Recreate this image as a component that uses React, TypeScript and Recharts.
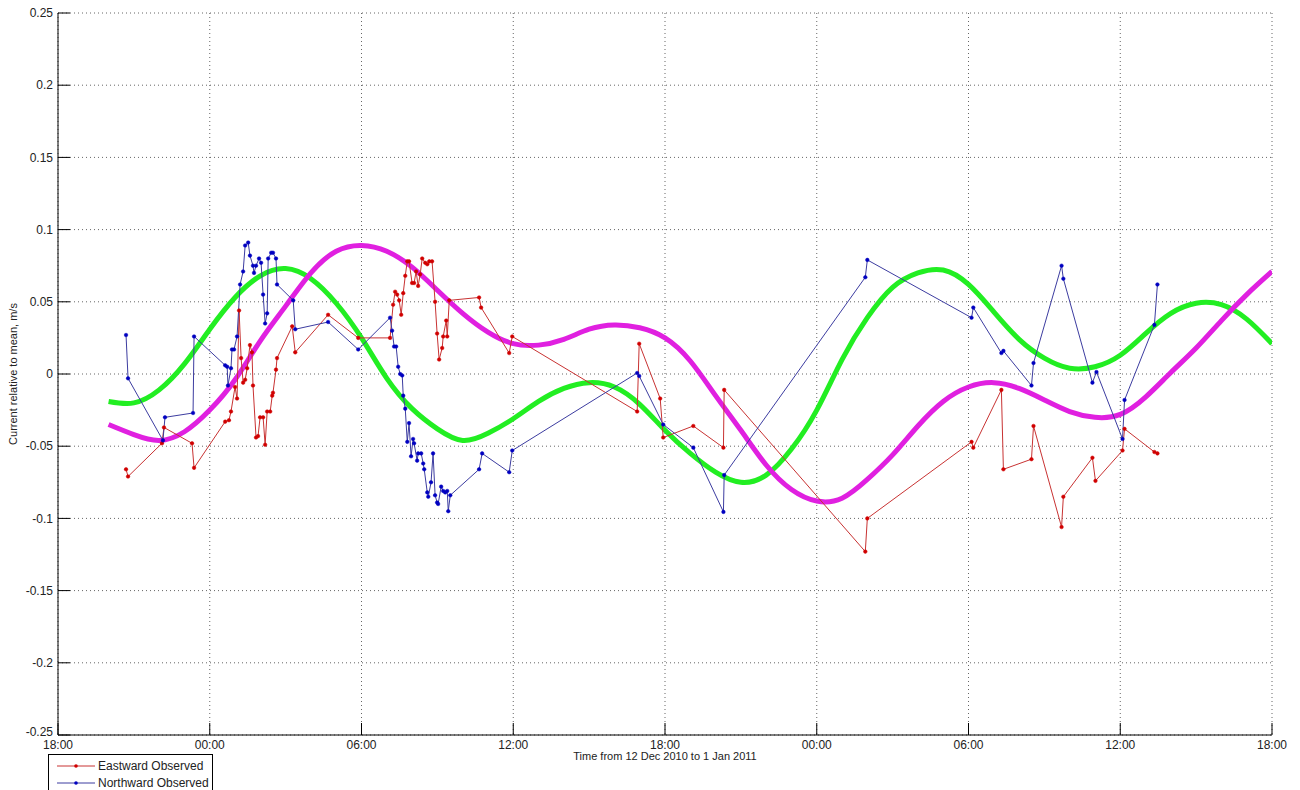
import { LineChart, Line, XAxis, YAxis, CartesianGrid } from 'recharts'

// hours counted from 18:00 on the first day
const timeTicks = [0, 6, 12, 18, 24, 30, 36, 42, 48]
const timeLabels = ['18:00', '00:00', '06:00', '12:00', '18:00', '00:00', '06:00', '12:00', '18:00']
const valueTicks = [-0.25, -0.2, -0.15, -0.1, -0.05, 0, 0.05, 0.1, 0.15, 0.2, 0.25]

// predicted tidal curves, hourly
const predHours = [
  2, 3, 4, 5, 6, 7, 8, 9, 10, 11, 12, 13, 14, 15, 16, 17, 18, 19, 20, 21, 22, 23, 24, 25,
  26, 27, 28, 29, 30, 31, 32, 33, 34, 35, 36, 37, 38, 39, 40, 41, 42, 43, 44, 45, 46, 47, 48,
]
const greenPred = [
  -0.019, -0.02, -0.011, 0.007, 0.031, 0.053, 0.068, 0.073, 0.066, 0.049, 0.025, -0.003,
  -0.024, -0.038, -0.046, -0.041, -0.031, -0.019, -0.01, -0.006, -0.009, -0.021, -0.039,
  -0.055, -0.068, -0.075, -0.07, -0.052, -0.025, 0.01, 0.039, 0.06, 0.07, 0.072, 0.062,
  0.043, 0.024, 0.011, 0.004, 0.005, 0.013, 0.028, 0.042, 0.049, 0.048, 0.038, 0.021,
]
const magentaPred = [
  -0.035, -0.042, -0.046, -0.04, -0.025, -0.004, 0.023, 0.047, 0.07, 0.085, 0.089, 0.085,
  0.074, 0.058, 0.042, 0.029, 0.021, 0.02, 0.024, 0.031, 0.034, 0.032, 0.025, 0.009,
  -0.015, -0.039, -0.063, -0.08, -0.088, -0.086, -0.073, -0.056, -0.036, -0.019, -0.009,
  -0.006, -0.01, -0.018, -0.026, -0.03, -0.028, -0.016, 0.001, 0.018, 0.037, 0.055, 0.071,
]

// observed samples
const eastHours = [
  2.69, 2.77, 4.11, 4.19, 5.3, 5.38, 6.61, 6.76, 6.84, 7.0, 7.08, 7.16, 7.24, 7.32, 7.4, 7.48,
  7.59, 7.67, 7.71, 7.83, 7.91, 7.99, 8.11, 8.19, 8.27, 8.39, 8.47, 8.5, 8.62, 8.66, 9.26, 9.38,
  10.68, 11.87, 13.13, 13.25, 13.33, 13.41, 13.49, 13.57, 13.65, 13.73, 13.81, 13.88, 14.0,
  14.08, 14.16, 14.24, 14.32, 14.4, 14.52, 14.6, 14.68, 14.79, 14.91, 14.99, 15.07, 15.19,
  15.23, 15.35, 15.39, 15.47, 16.65, 16.73, 17.84, 17.96, 22.9, 22.98, 23.81, 23.93, 25.12,
  26.31, 26.34, 31.92, 32.0, 36.12, 36.19, 37.3, 37.38, 38.49, 38.57, 39.68, 39.75, 40.9,
  41.02, 42.09, 42.17, 43.35, 43.47,
]
const eastValues = [
  -0.066, -0.071, -0.048, -0.037, -0.048, -0.065, -0.033, -0.032, -0.026, -0.009, -0.017,
  0.044, 0.011, -0.006, -0.004, 0.004, 0.02, 0.015, -0.008, -0.044, -0.043, -0.03, -0.03,
  -0.049, -0.026, -0.026, -0.015, -0.013, 0.003, 0.011, 0.033, 0.015, 0.041, 0.025, 0.025,
  0.048, 0.057, 0.055, 0.051, 0.041, 0.056, 0.068, 0.078, 0.078, 0.063, 0.063, 0.071, 0.061,
  0.069, 0.08, 0.077, 0.076, 0.078, 0.078, 0.05, 0.028, 0.01, 0.018, 0.026, 0.037, 0.026,
  0.051, 0.053, 0.046, 0.0145, 0.026, -0.026, 0.021, -0.017, -0.044, -0.036, -0.051, -0.011,
  -0.123, -0.1, -0.047, -0.051, -0.011, -0.066, -0.059, -0.036, -0.106, -0.085, -0.058,
  -0.074, -0.053, -0.038, -0.054, -0.055,
]
const northHours = [
  2.69, 2.77, 4.15, 4.23, 5.34, 5.38, 6.61, 6.69, 6.72, 6.84, 6.88, 6.96, 7.08, 7.2, 7.32, 7.4,
  7.52, 7.59, 7.71, 7.75, 7.83, 7.95, 8.03, 8.11, 8.19, 8.27, 8.31, 8.43, 8.5, 8.62, 8.66, 9.3,
  9.38, 10.68, 11.87, 13.13, 13.21, 13.29, 13.37, 13.45, 13.53, 13.61, 13.65, 13.73, 13.81,
  13.88, 13.96, 14.04, 14.08, 14.2, 14.24, 14.36, 14.44, 14.48, 14.6, 14.64, 14.75, 14.83,
  14.91, 14.99, 15.03, 15.15, 15.23, 15.31, 15.39, 15.43, 15.51, 16.65, 16.77, 17.84, 17.96,
  22.9, 22.98, 23.93, 25.12, 26.31, 26.34, 31.92, 32.0, 36.12, 36.19, 37.3, 37.38, 38.49,
  38.57, 39.68, 39.75, 40.9, 41.06, 42.09, 42.17, 43.35, 43.47,
]
const northValues = [
  0.027, -0.003, -0.046, -0.03, -0.027, 0.026, 0.006, 0.005, -0.008, 0.004, 0.017, 0.017,
  0.026, 0.062, 0.071, 0.089, 0.091, 0.082, 0.075, 0.07, 0.075, 0.08, 0.077, 0.055, 0.035,
  0.042, 0.08, 0.084, 0.084, 0.08, 0.062, 0.051, 0.031, 0.036, 0.017, 0.039, 0.03, 0.019,
  0.019, 0.005, 0.0, -0.001, -0.015, -0.024, -0.047, -0.034, -0.057, -0.045, -0.048, -0.06,
  -0.055, -0.055, -0.062, -0.066, -0.082, -0.085, -0.075, -0.055, -0.084, -0.089, -0.09,
  -0.078, -0.081, -0.082, -0.081, -0.095, -0.084, -0.066, -0.055, -0.068, -0.053, 0.0007,
  -0.0014, -0.035, -0.051, -0.0955, -0.07, 0.067, 0.079, 0.039, 0.046, 0.0145, 0.016, -0.008,
  0.0076, 0.075, 0.066, -0.006, 0.0014, -0.045, -0.018, 0.034, 0.062,
]

const greenData = predHours.map((t, i) => ({ t, v: greenPred[i] }))
const magentaData = predHours.map((t, i) => ({ t, v: magentaPred[i] }))
const eastData = eastHours.map((t, i) => ({ t, v: eastValues[i] }))
const northData = northHours.map((t, i) => ({ t, v: northValues[i] }))

const font = '"Liberation Sans", Arial, sans-serif'

const fmtValue = (v: number) => String(Number(v.toFixed(2)))

// the bottom label sits a little higher, as in the original figure
const YTick = ({ x, y, payload }: any) => (
  <text
    x={x}
    y={y + (payload.value === -0.25 ? -3 : 0)}
    dy="0.355em"
    textAnchor="end"
    fill="#222"
    fontSize={12}
    fontFamily={font}
  >
    {fmtValue(payload.value)}
  </text>
)

const App = () => {
  return (
    <div style={{ position: 'absolute', left: 0, top: 0, width: 1300, height: 790, background: '#fff', fontFamily: font }}>
      <LineChart width={1300} height={790} margin={{ top: 13, right: 28, bottom: 35, left: 0 }}>
        <CartesianGrid stroke="#666" strokeDasharray="1 3" />
        <XAxis
          type="number"
          dataKey="t"
          domain={[0, 48]}
          ticks={timeTicks}
          tickFormatter={(v: number) => timeLabels[timeTicks.indexOf(v)]}
          height={20}
          tickSize={-12}
          tickMargin={17}
          axisLine={{ stroke: '#000' }}
          tickLine={{ stroke: '#000' }}
          tick={{ fill: '#222', fontSize: 12, fontFamily: font }}
          allowDataOverflow
        />
        <YAxis
          type="number"
          dataKey="v"
          domain={[-0.25, 0.25]}
          ticks={valueTicks}
          width={58}
          tickSize={-12}
          tickMargin={17}
          axisLine={{ stroke: '#000' }}
          tickLine={{ stroke: '#000' }}
          tick={YTick}
          allowDataOverflow
        />
        <Line data={greenData} dataKey="v" type="natural" stroke="#22ee22" strokeWidth={5} dot={false} isAnimationActive={false} />
        <Line data={magentaData} dataKey="v" type="natural" stroke="#e020e0" strokeWidth={5} dot={false} isAnimationActive={false} />
        <Line
          data={eastData}
          dataKey="v"
          type="linear"
          stroke="#c83232"
          strokeWidth={1}
          dot={{ r: 1.8, fill: '#d00000', stroke: '#d00000', strokeWidth: 0.5 }}
          isAnimationActive={false}
        />
        <Line
          data={northData}
          dataKey="v"
          type="linear"
          stroke="#3c3ca0"
          strokeWidth={1}
          dot={{ r: 1.8, fill: '#0000c0', stroke: '#0000c0', strokeWidth: 0.5 }}
          isAnimationActive={false}
        />
      </LineChart>

      <div style={{ position: 'absolute', left: 565, top: 750, width: 200, textAlign: 'center', fontSize: 11, color: '#222' }}>
        Time from 12 Dec 2010 to 1 Jan 2011
      </div>
      <div
        style={{
          position: 'absolute',
          left: 13,
          top: 374,
          transform: 'translate(-50%, -50%) rotate(-90deg)',
          whiteSpace: 'nowrap',
          fontSize: 11,
          color: '#222',
        }}
      >
        Current relative to mean, m/s
      </div>

      <svg style={{ position: 'absolute', left: 48, top: 754 }} width={165} height={36}>
        <rect x={0.5} y={0.5} width={164} height={40} fill="#fff" stroke="#000" />
        <line x1={9} x2={47} y1={12} y2={12} stroke="#c83232" />
        <circle cx={28} cy={12} r={1.8} fill="#d00000" />
        <text x={50} y={16} fontSize={12} fontFamily={font} fill="#222">Eastward Observed</text>
        <line x1={9} x2={47} y1={29} y2={29} stroke="#3c3ca0" />
        <circle cx={28} cy={29} r={1.8} fill="#0000c0" />
        <text x={50} y={33} fontSize={12} fontFamily={font} fill="#222">Northward Observed</text>
      </svg>
    </div>
  )
}

export default App
